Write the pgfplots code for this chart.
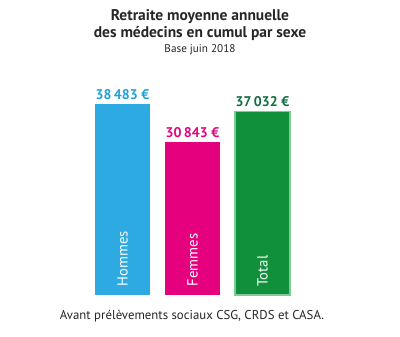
\documentclass[border=0pt]{standalone}
\usepackage{pgfplots}
\pgfplotsset{compat=1.18}
\usepackage{fontspec}
\setmainfont{PT Sans}
\definecolor{cH}{HTML}{2DAAE1}
\definecolor{cHt}{HTML}{1EA0DC}
\definecolor{cF}{HTML}{E5007D}
\definecolor{cT}{HTML}{11903B}
\definecolor{cTb}{HTML}{7FCB98}
\definecolor{cTt}{HTML}{0E6E3C}
\begin{document}
\begin{tikzpicture}
\path (0,0) rectangle (300pt,252pt);
\node[align=center,font=\bfseries\fontsize{11.6}{12.8}\selectfont,text=black!85] at (150pt,233pt) {Retraite moyenne annuelle\\des médecins en cumul par sexe};
\node[font=\fontsize{8.4}{9}\selectfont,text=black!85] at (150pt,214.5pt) {Base juin 2018};
\node[font=\fontsize{9.6}{11}\selectfont,text=black!85] at (144pt,15pt) {Avant prélèvements sociaux CSG, CRDS et CASA.};
\begin{axis}[
  at={(39.375pt,30.75pt)}, anchor=south west,
  scale only axis, width=210pt, height=148.9pt,
  xmin=-1, xmax=3, ymin=0, ymax=40000,
  axis lines=none,
  ybar, bar width=41.25pt, bar shift=0pt,
  nodes near coords={\pgfmathprintnumber[fixed,assume math mode=true,1000 sep={\,}]{\pgfplotspointmeta}~€},
  nodes near coords style={font=\bfseries\fontsize{10.5}{12}\selectfont, anchor=south, yshift=0pt},
  point meta=y,
]
\addplot[fill=cH, draw=none, nodes near coords style={text=cHt}] coordinates {(0,38483)};
\addplot[fill=cF, draw=none, nodes near coords style={text=cF}] coordinates {(1,30843)};
\addplot[fill=cT, draw=cTb, line width=0.8pt, nodes near coords style={text=cTt}] coordinates {(2,37032)};
\node[rotate=90, anchor=west, text=white, font=\fontsize{11}{12}\selectfont] at (axis cs:0,0) {\hspace{3pt}Hommes};
\node[rotate=90, anchor=west, text=white, font=\fontsize{11}{12}\selectfont] at (axis cs:1,0) {\hspace{3pt}Femmes};
\node[rotate=90, anchor=west, text=white, font=\fontsize{11}{12}\selectfont] at (axis cs:2,0) {\hspace{3pt}Total};
\end{axis}
\end{tikzpicture}
\end{document}
